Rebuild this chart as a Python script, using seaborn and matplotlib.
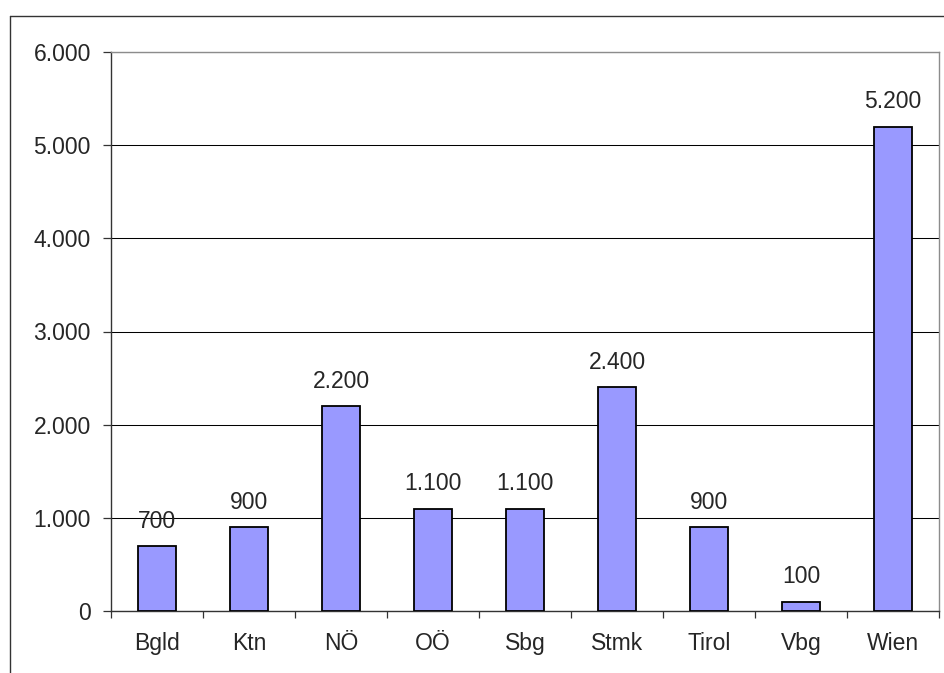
import numpy as np
import pandas as pd
import matplotlib
matplotlib.use("Agg")
import matplotlib.pyplot as plt
import seaborn as sns
from matplotlib.lines import Line2D
from matplotlib.ticker import FuncFormatter, FixedLocator

regions = ["Bgld", "Ktn", "NÖ", "OÖ", "Sbg", "Stmk", "Tirol", "Vbg", "Wien"]
counts = [700, 900, 2200, 1100, 1100, 2400, 900, 100, 5200]
y_ticks = [0, 1000, 2000, 3000, 4000, 5000, 6000]

df = pd.DataFrame({"region": regions, "count": counts})

sns.set_style("white")
plt.rcParams["font.family"] = ["Liberation Sans", "DejaVu Sans"]


def dot_thousands(v, pos=None):
    return f"{int(round(v)):,}".replace(",", ".")


fig = plt.figure(figsize=(9.44, 6.73), dpi=100)
ax = fig.add_axes([111 / 944, 1 - 611 / 673, (939 - 111) / 944, (611 - 52) / 673])

sns.barplot(data=df, x="region", y="count", color="#9999FF", edgecolor="black",
            linewidth=1.3, width=0.42, saturation=1, ax=ax, zorder=3)

ax.set_xlim(-0.5, len(regions) - 0.5)
ax.set_ylim(0, 6000)
ax.set_yticks(y_ticks)
ax.yaxis.set_major_formatter(FuncFormatter(dot_thousands))
ax.set_xlabel("")
ax.set_ylabel("")

# gridlines
ax.yaxis.grid(True, color="black", linewidth=0.75, zorder=0)
ax.xaxis.grid(False)
ax.set_axisbelow(True)

# ticks: y outward, x labels at centers, tick marks between categories
ax.tick_params(axis="y", which="major", direction="out", length=6, width=0.9,
               color="#333333", pad=8.5, labelsize=16.5, left=True)
ax.tick_params(axis="x", which="major", length=0, pad=15, labelsize=16.5)
ax.xaxis.set_minor_locator(FixedLocator(np.arange(-0.5, len(regions), 1.0)))
ax.tick_params(axis="x", which="minor", direction="out", length=5, width=0.9,
               color="#333333", bottom=True)

for side in ["left", "bottom"]:
    ax.spines[side].set_color("#333333")
    ax.spines[side].set_linewidth(1.0)
for side in ["top", "right"]:
    ax.spines[side].set_color("#8c8c8c")
    ax.spines[side].set_linewidth(1.0)
    ax.spines[side].set_visible(True)

# value labels
for i, v in enumerate(counts):
    ax.annotate(dot_thousands(v), (i, v), xytext=(0, 9.5), textcoords="offset points",
                ha="center", va="bottom", fontsize=16.5)

# outer chart frame (partly cropped on right and bottom)
fig.add_artist(Line2D([10 / 944, 1.0], [1 - 16 / 673, 1 - 16 / 673],
                      transform=fig.transFigure, color="#333333", linewidth=1.0))
fig.add_artist(Line2D([10 / 944, 10 / 944], [1 - 16 / 673, 0.0],
                      transform=fig.transFigure, color="#333333", linewidth=1.0))

fig.savefig("out.png", dpi=100, facecolor="white")
